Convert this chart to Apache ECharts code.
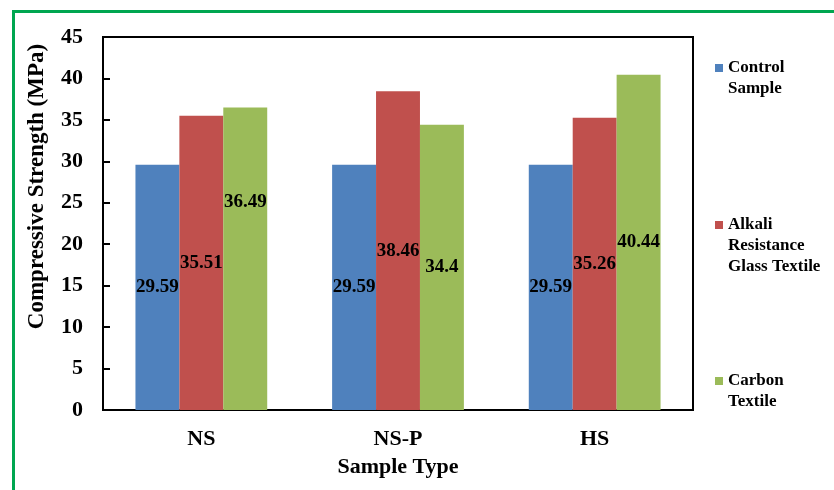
<!DOCTYPE html>
<html>
<head>
<meta charset="utf-8">
<script src="https://cdn.jsdelivr.net/npm/echarts@6/dist/echarts.min.js"></script>
<style>
  html, body { margin: 0; padding: 0; background: #fff; }
  #frame { position: absolute; left: 12px; top: 10px; width: 830px; height: 490px;
           border-left: 3px solid #00A650; border-top: 3px solid #00A650; box-sizing: border-box; }
  #chart { position: absolute; left: 0; top: 0; width: 834px; height: 490px; }
</style>
</head>
<body>
<div id="frame"></div>
<div id="chart"></div>
<script>
// Compressive strength by sample type
const categories = ['NS', 'NS-P', 'HS'];
const seriesNames = ['Control\nSample', 'Alkali\nResistance\nGlass Textile', 'Carbon\nTextile'];
const controlSample = [29.59, 29.59, 29.59];
const glassTextile = [35.51, 38.46, 35.26];
const carbonTextile = [36.49, 34.4, 40.44];
const yTicks = [0, 5, 10, 15, 20, 25, 30, 35, 40, 45];

const colors = ['#4F81BD', '#C0504D', '#9BBB59'];
const FONT = '"Liberation Serif", "Times New Roman", serif';
const values = [controlSample, glassTextile, carbonTextile];

// label nudges for individual bars (series index -> data index -> [dx, dy])
const labelNudge = { 2: { 0: [0, -57] } };

const LINE_H = 21;
// top of each legend block
const legendTops = [36.5, 172.5, 349.5];

function buildSeries(i) {
  return {
    name: seriesNames[i],
    type: 'bar',
    barGap: '0%',
    barCategoryGap: '33%',
    itemStyle: { color: colors[i] },
    label: {
      show: true,
      position: 'inside',
      color: '#000',
      fontFamily: FONT,
      fontWeight: 'bold',
      fontSize: 19
    },
    data: values[i].map((v, j) => {
      const nudge = labelNudge[i] && labelNudge[i][j];
      return nudge ? { value: v, label: { offset: nudge } } : { value: v };
    })
  };
}

// one legend block per series; leading blank lines keep the marker
// level with the first line of a multi-line name
function buildLegend(i) {
  const lines = seriesNames[i].split('\n').length;
  return {
    orient: 'vertical',
    left: 715, top: legendTops[i],
    padding: 0,
    itemWidth: 8, itemHeight: 8,
    icon: 'rect',
    selectedMode: false,
    data: [seriesNames[i]],
    formatter: name => '\n'.repeat(lines - 1) + name,
    textStyle: {
      fontFamily: FONT, fontWeight: 'bold', fontSize: 17, color: '#000',
      lineHeight: LINE_H
    }
  };
}

const chart = echarts.init(document.getElementById('chart'), null, { renderer: 'canvas' });
chart.setOption({
  animation: false,
  backgroundColor: 'transparent',
  grid: {
    left: 103, top: 37, width: 590, height: 373,
    show: true, borderColor: '#000', borderWidth: 2, backgroundColor: 'transparent'
  },
  legend: [0, 1, 2].map(buildLegend),
  xAxis: {
    type: 'category',
    data: categories,
    name: 'Sample Type',
    nameLocation: 'middle',
    nameGap: 46,
    nameTextStyle: { fontFamily: FONT, fontWeight: 'bold', fontSize: 22, color: '#000' },
    axisLine: { lineStyle: { color: '#000', width: 2 } },
    axisTick: { show: false },
    axisLabel: { fontFamily: FONT, fontWeight: 'bold', fontSize: 22, color: '#000', margin: 18 }
  },
  yAxis: {
    type: 'value',
    min: yTicks[0],
    max: yTicks[yTicks.length - 1],
    interval: yTicks[1] - yTicks[0],
    name: 'Compressive Strength (MPa)',
    nameLocation: 'middle',
    nameGap: 54,
    nameTextStyle: { fontFamily: FONT, fontWeight: 'bold', fontSize: 23, color: '#000', padding: [0, 0, 0, 74] },
    axisLine: { show: true, lineStyle: { color: '#000', width: 2 } },
    axisTick: { show: true, inside: true, length: 7, lineStyle: { color: '#000', width: 2 } },
    splitLine: { show: false },
    axisLabel: { fontFamily: FONT, fontWeight: 'bold', fontSize: 22, color: '#000', margin: 20 }
  },
  series: [0, 1, 2].map(buildSeries)
});
</script>
</body>
</html>
